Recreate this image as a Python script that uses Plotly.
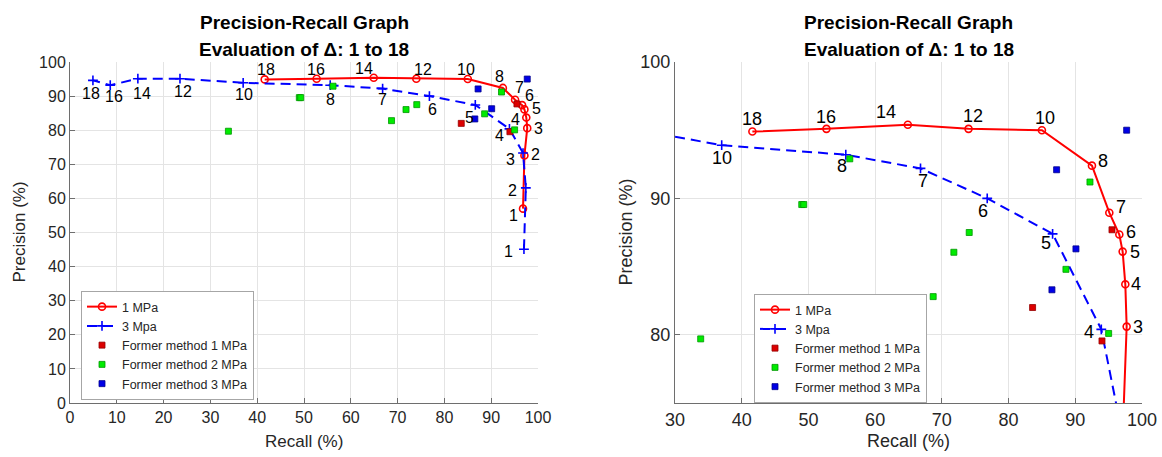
import plotly.graph_objects as go

# ---------------- data ----------------
delta = [1, 2, 3, 4, 5, 6, 7, 8, 10, 12, 14, 16, 18]

recall_1mpa = [96.8, 97.1, 97.7, 97.5, 97.1, 96.6, 95.1, 92.5, 85.0, 74.0, 64.9, 52.7, 41.6]
precision_1mpa = [57.0, 72.6, 80.6, 83.7, 86.1, 87.35, 88.95, 92.4, 95.0, 95.1, 95.4, 95.1, 94.9]

recall_3mpa = [97.0, 97.4, 96.8, 93.9, 86.6, 76.8, 66.8, 55.6, 37.0, 23.5, 14.5, 8.6, 4.9]
precision_3mpa = [45.1, 63.1, 73.3, 80.4, 87.4, 90.0, 92.2, 93.2, 93.9, 95.1, 95.1, 93.2, 94.6]

former1_recall = [83.6, 94.0, 95.5]
former1_precision = [82.0, 79.55, 87.7]

former2_recall = [33.85, 49.0, 49.3, 56.2, 68.7, 71.8, 74.1, 88.6, 92.2, 95.0]
former2_precision = [79.7, 89.55, 89.55, 92.9, 82.8, 86.05, 87.5, 84.8, 91.2, 80.1]

former3_recall = [97.7, 87.2, 90.1, 86.5]
former3_precision = [95.0, 92.1, 86.3, 83.3]

series_names = ["1 MPa", "3 Mpa", "Former method 1 MPa", "Former method 2 MPa", "Former method 3 MPa"]
title_lines = ["Precision-Recall Graph", "Evaluation of \u0394: 1 to 18"]
x_title = "Recall (%)"
y_title = "Precision (%)"

# ---------------- label offsets (pixels: dx right, dy down) ----------------
left_red_off = {18: (1, -10), 16: (-1, -9), 14: (-10, -9), 12: (7, -9), 10: (-2, -10), 8: (-3, -11),
                7: (4, -12), 6: (7, -10), 5: (12, -1), 4: (-11, 2), 3: (11, 0), 2: (11, -1), 1: (-10, 7)}
left_blue_off = {18: (-2, 13), 16: (4, 11), 14: (4, 15), 12: (3, 13), 10: (1, 12), 8: (0, 14),
                 7: (0, 11), 6: (3, 13), 5: (-6, 13), 4: (-10, 7), 3: (-13, 6), 2: (-13, 3), 1: (-15, 2)}
right_red_off = {18: (0, -13), 16: (0, -12), 14: (-22, -13), 12: (4, -13), 10: (3, -12), 8: (11, -5),
                 7: (12, -6), 6: (12, -3), 5: (12, 0), 4: (11, 0), 3: (11, 0), 2: (11, 0), 1: (-10, 7)}
right_blue_off = {18: (0, 13), 16: (0, 13), 14: (0, 13), 12: (0, 13), 10: (0, 13), 8: (-4, 11),
                  7: (2, 13), 6: (-4, 13), 5: (-7, 9), 4: (-12, 3), 3: (-12, 3), 2: (-12, 3), 1: (-12, 3)}

W, H = 1162, 457
FONT = "Liberation Sans, Arial, sans-serif"
TXT = "#262626"
RED = "rgb(255,0,0)"
BLUE = "rgb(0,0,255)"


def px(x):
    return x / W


def py(y):
    return 1 - y / H


fig = go.Figure()

panels = [
    dict(xa="x", ya="y", legend="legend", xr=[0, 100], yr=[0, 100],
         red_off=left_red_off, blue_off=left_blue_off, lab_size=16),
    dict(xa="x2", ya="y2", legend="legend2", xr=[30, 100], yr=[75, 100],
         red_off=right_red_off, blue_off=right_blue_off, lab_size=18),
]

annotations = []
for p in panels:
    fig.add_trace(go.Scatter(
        x=recall_1mpa, y=precision_1mpa, name=series_names[0], mode="lines+markers",
        xaxis=p["xa"], yaxis=p["ya"], legend=p["legend"],
        line=dict(color=RED, width=2),
        marker=dict(symbol="circle-open", size=7, color=RED, line=dict(width=1.6, color=RED)),
    ))
    fig.add_trace(go.Scatter(
        x=recall_3mpa, y=precision_3mpa, name=series_names[1], mode="lines+markers",
        xaxis=p["xa"], yaxis=p["ya"], legend=p["legend"],
        line=dict(color=BLUE, width=2, dash="10px,6px"),
        marker=dict(symbol="cross-thin", size=7, color=BLUE, line=dict(width=1.6, color=BLUE)),
    ))
    for name, xs, ys, col, edge in [
        (series_names[2], former1_recall, former1_precision, "rgb(220,0,0)", "rgb(150,0,0)"),
        (series_names[3], former2_recall, former2_precision, "rgb(0,235,0)", "rgb(0,150,0)"),
        (series_names[4], former3_recall, former3_precision, "rgb(0,0,230)", "rgb(0,0,140)"),
    ]:
        fig.add_trace(go.Scatter(
            x=xs, y=ys, name=name, mode="markers",
            xaxis=p["xa"], yaxis=p["ya"], legend=p["legend"],
            marker=dict(symbol="square", size=6, color=col, line=dict(width=0.8, color=edge)),
        ))
    # delta labels
    for xs, ys, offs in [(recall_1mpa, precision_1mpa, p["red_off"]),
                         (recall_3mpa, precision_3mpa, p["blue_off"])]:
        for d, xv, yv in zip(delta, xs, ys):
            if not (p["xr"][0] <= xv <= p["xr"][1] and p["yr"][0] <= yv <= p["yr"][1]):
                continue
            dx, dy = offs[d]
            annotations.append(dict(
                x=xv, y=yv, xref=p["xa"], yref=p["ya"], text=str(d), showarrow=False,
                xshift=dx, yshift=-dy, font=dict(family=FONT, size=p["lab_size"], color="black"),
            ))

# panel geometry (pixels)
left_x0, left_x1 = 70, 538
right_x0, right_x1 = 675, 1142
top_y, bot_y = 62, 403

axis_common = dict(
    showline=True, linecolor="#6e6e6e", linewidth=1,
    ticks="inside", ticklen=5, tickcolor="#6e6e6e",
    showgrid=True, gridcolor="#e4e4e4", gridwidth=1,
    zeroline=False, mirror=False, fixedrange=True, automargin=False,
)

fig.update_layout(
    width=W, height=H,
    margin=dict(l=0, r=0, t=0, b=0, pad=0),
    paper_bgcolor="white", plot_bgcolor="white",
    showlegend=True,
    font=dict(family=FONT, color=TXT),
    xaxis=dict(domain=[px(left_x0), px(left_x1)], range=[0, 100], dtick=10, anchor="y",
               tickfont=dict(size=16, color=TXT), **axis_common),
    yaxis=dict(domain=[py(bot_y), py(top_y)], range=[0, 100], dtick=10, anchor="x",
               tickfont=dict(size=16, color=TXT), **axis_common),
    xaxis2=dict(domain=[px(right_x0), px(right_x1)], range=[30, 100], dtick=10, anchor="y2",
                tickfont=dict(size=18, color=TXT), **axis_common),
    yaxis2=dict(domain=[py(bot_y), py(top_y)], range=[75, 100], tickvals=[80, 90, 100], anchor="x2",
                tickfont=dict(size=18, color=TXT), **axis_common),
    legend=dict(x=px(81), y=py(291), xanchor="left", yanchor="top",
                bgcolor="white", bordercolor="#a6a6a6", borderwidth=1,
                font=dict(family=FONT, size=12.5, color=TXT), tracegroupgap=0, itemwidth=30),
    legend2=dict(x=px(754), y=py(294), xanchor="left", yanchor="top",
                 bgcolor="white", bordercolor="#a6a6a6", borderwidth=1,
                 font=dict(family=FONT, size=12.5, color=TXT), tracegroupgap=0, itemwidth=30),
)

# titles and axis titles
for cx, tsize, xlab_size in [((left_x0 + left_x1) / 2, 19, 17), ((right_x0 + right_x1) / 2, 19, 18)]:
    annotations.append(dict(x=px(cx), y=py(22), xref="paper", yref="paper", text="<b>%s</b>" % title_lines[0],
                            showarrow=False, xanchor="center", yanchor="middle",
                            font=dict(family=FONT, size=tsize, color="black")))
    annotations.append(dict(x=px(cx), y=py(49), xref="paper", yref="paper", text="<b>%s</b>" % title_lines[1],
                            showarrow=False, xanchor="center", yanchor="middle",
                            font=dict(family=FONT, size=tsize, color="black")))
    annotations.append(dict(x=px(cx), y=py(441), xref="paper", yref="paper", text=x_title,
                            showarrow=False, xanchor="center", yanchor="middle",
                            font=dict(family=FONT, size=xlab_size, color=TXT)))

annotations.append(dict(x=px(19), y=py((top_y + bot_y) / 2), xref="paper", yref="paper", text=y_title,
                        showarrow=False, textangle=-90, xanchor="center", yanchor="middle",
                        font=dict(family=FONT, size=17, color=TXT)))
annotations.append(dict(x=px(625), y=py((top_y + bot_y) / 2), xref="paper", yref="paper", text=y_title,
                        showarrow=False, textangle=-90, xanchor="center", yanchor="middle",
                        font=dict(family=FONT, size=18, color=TXT)))

fig.update_layout(annotations=annotations)

# remove the browser's default 8px page margin so the figure fills the window exactly
fig.write_html("out.html",
               config={"displayModeBar": False},
               post_script="document.body.style.margin='0';document.body.style.overflow='hidden';")
